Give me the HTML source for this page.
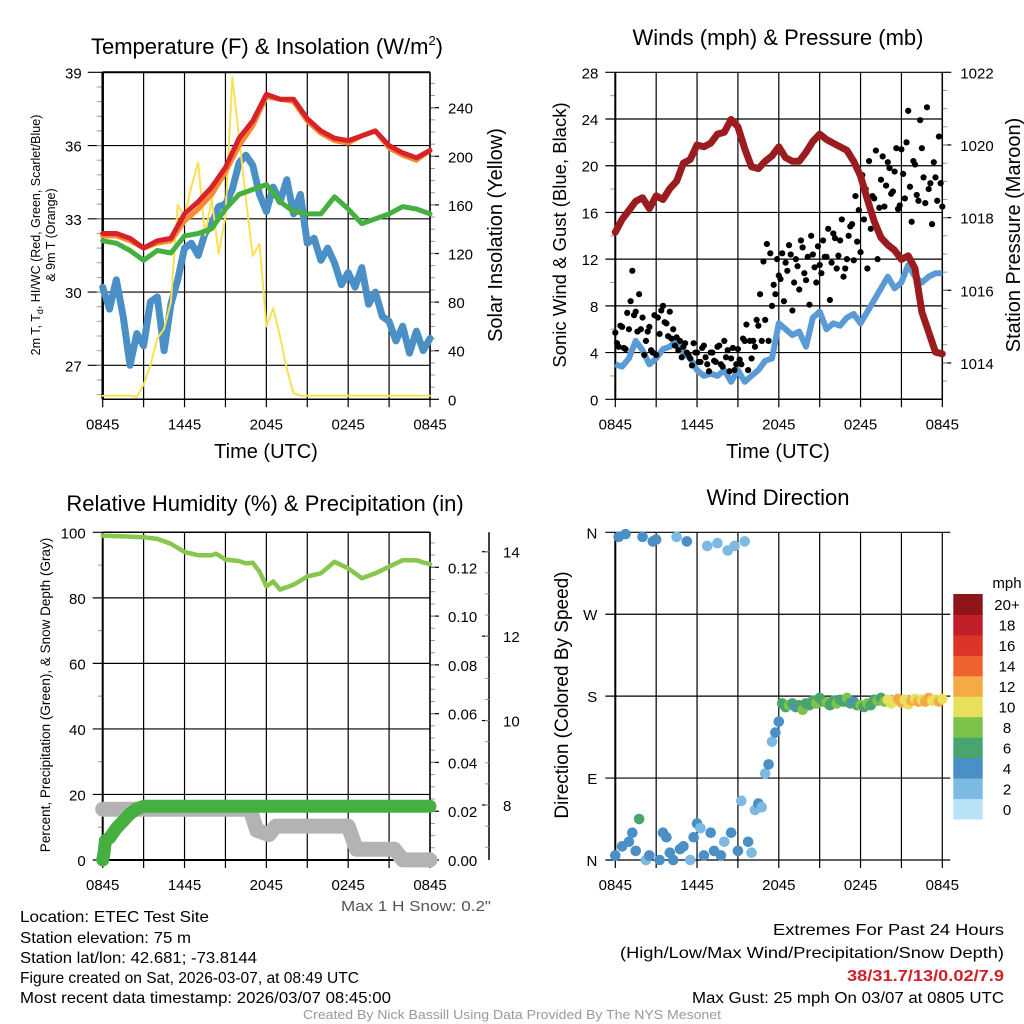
<!DOCTYPE html>
<html><head><meta charset="utf-8">
<style>
html,body{margin:0;padding:0;background:#fff;}
svg{display:block;font-family:"Liberation Sans",Arial,sans-serif;}
</style></head>
<body>
<svg id="fig" width="1024" height="1024" viewBox="0 0 1024 1024" xmlns="http://www.w3.org/2000/svg">
<rect x="0" y="0" width="1024" height="1024" fill="#fff"/>
<g id="layer"></g>
<text x="267" y="54" font-size="22" text-anchor="middle">Temperature (F) &amp; Insolation (W/m<tspan font-size="13" dy="-9">2</tspan><tspan dy="9">)</tspan></text>
<text x="778" y="45" font-size="22" text-anchor="middle">Winds (mph) &amp; Pressure (mb)</text>
<text x="265" y="511" font-size="22" text-anchor="middle">Relative Humidity (%) &amp; Precipitation (in)</text>
<text x="778" y="505" font-size="22" text-anchor="middle">Wind Direction</text>

<text x="266" y="458" font-size="20" text-anchor="middle">Time (UTC)</text>
<text x="778" y="458" font-size="20" text-anchor="middle">Time (UTC)</text>

<text transform="translate(40,235) rotate(-90)" font-size="12.5" text-anchor="middle"><tspan x="0" dy="0">2m T, T<tspan font-size="9" dy="3">d</tspan><tspan dy="-3">, HI/WC (Red, Green, Scarlet/Blue)</tspan></tspan><tspan x="0" dy="15">&amp; 9m T (Orange)</tspan></text>
<text transform="translate(502,235) rotate(-90)" font-size="20" text-anchor="middle">Solar Insolation (Yellow)</text>
<text transform="translate(566,235) rotate(-90)" font-size="18.5" text-anchor="middle">Sonic Wind &amp; Gust (Blue, Black)</text>
<text transform="translate(1020,235) rotate(-90)" font-size="20" text-anchor="middle">Station Pressure (Maroon)</text>
<text transform="translate(50,695) rotate(-90)" font-size="13.5" text-anchor="middle">Percent, Precipitation (Green), &amp; Snow Depth (Gray)</text>
<text transform="translate(568,695) rotate(-90)" font-size="19" text-anchor="middle">Direction (Colored By Speed)</text>

<text x="491" y="911" font-size="15" fill="#555" text-anchor="end" textLength="150" lengthAdjust="spacingAndGlyphs">Max 1 H Snow: 0.2"</text>
<g font-size="16">
<text x="20" y="922" textLength="189" lengthAdjust="spacingAndGlyphs">Location: ETEC Test Site</text>
<text x="20" y="943" textLength="171" lengthAdjust="spacingAndGlyphs">Station elevation: 75 m</text>
<text x="20" y="963" textLength="237" lengthAdjust="spacingAndGlyphs">Station lat/lon: 42.681; -73.8144</text>
<text x="20" y="983" textLength="339" lengthAdjust="spacingAndGlyphs">Figure created on Sat, 2026-03-07, at 08:49 UTC</text>
<text x="20" y="1003" textLength="371" lengthAdjust="spacingAndGlyphs">Most recent data timestamp: 2026/03/07 08:45:00</text>
</g>
<g font-size="16" text-anchor="end">
<text x="1004" y="935" textLength="231" lengthAdjust="spacingAndGlyphs">Extremes For Past 24 Hours</text>
<text x="1004" y="958" textLength="384" lengthAdjust="spacingAndGlyphs">(High/Low/Max Wind/Precipitation/Snow Depth)</text>
<text x="1004" y="981" fill="#d0202a" font-weight="bold" textLength="157" lengthAdjust="spacingAndGlyphs">38/31.7/13/0.02/7.9</text>
<text x="1004" y="1003" textLength="312" lengthAdjust="spacingAndGlyphs">Max Gust: 25 mph On 03/07 at 0805 UTC</text>
</g>
<text x="512" y="1019" font-size="12.5" fill="#999" text-anchor="middle" textLength="418" lengthAdjust="spacingAndGlyphs">Created By Nick Bassill Using Data Provided By The NYS Mesonet</text>
</svg>
<script>
// ---- data ----
const xTickLabels = ['0845','1445','2045','0245','0845'];
const tempRed = [32.4,32.4,32.2,31.8,32.1,32.2,33.2,33.7,34.3,35.1,36.3,37.0,38.1,37.9,37.9,37.1,36.6,36.3,36.2,36.4,36.6,36.0,35.7,35.5,35.8];
const tempOrange = [32.3,32.3,32.1,31.8,32.0,32.1,32.9,33.4,34.0,34.9,36.0,36.8,38.0,37.9,37.8,37.0,36.5,36.2,36.1,36.4,36.6,35.9,35.6,35.4,35.8];
const tempGreen = [32.1,32.0,31.7,31.3,31.7,31.6,32.3,32.4,32.6,33.4,34.0,34.2,34.4,33.7,33.3,33.2,33.2,33.9,33.4,32.8,33.0,33.2,33.5,33.4,33.2];
const tempBlue = [30.2,29.3,30.5,29.0,27.0,28.3,27.8,29.6,29.8,27.6,29.5,30.5,31.8,32.0,31.5,32.4,32.8,33.5,33.6,34.2,35.3,35.6,35.2,34.0,33.3,34.3,33.7,34.6,33.2,34.0,32.0,32.2,31.3,31.8,31.2,30.3,30.8,30.2,31.0,29.5,30.0,29.0,28.8,28.0,28.6,27.5,28.4,27.6,28.1];
const insolation = [3,3,3,3,3,2,12,28,50,58,80,160,150,175,195,135,165,120,150,265,215,165,118,128,60,75,52,25,5,3,3,3,3,3,3,3,3,3,3,3,3,3,3,3,3,3,3,3,3];
const tempTicks = [27,30,33,36,39];
const insolTicks = [0,40,80,120,160,200,240];

const windSpeed = [3,2.8,3.5,5,4.2,3,3.5,4.3,4.5,5,4,3.5,2.5,2,2.2,2,2.5,1.5,2.5,1.5,2,2.5,3.3,3.5,6.5,6,5.5,5.8,4.5,7,7.5,6,6.5,6.3,7,7.3,6.5,7.5,8.5,9.5,10.5,9.5,10,11.5,10.5,10,10.5,10.8,10.8];
const pressure = [1017.6,1017.95,1018.2,1018.45,1018.55,1018.25,1018.6,1018.5,1018.8,1019.0,1019.5,1019.6,1020.0,1019.95,1020.05,1020.3,1020.35,1020.7,1020.5,1019.9,1019.4,1019.35,1019.55,1019.7,1019.95,1019.65,1019.55,1019.55,1019.8,1020.1,1020.3,1020.15,1020.05,1019.95,1019.85,1019.55,1019.15,1018.5,1017.9,1017.45,1017.25,1017.1,1016.85,1016.95,1016.6,1015.4,1014.85,1014.3,1014.25];
const gustA = [5.7,4.5,6.2,4.3,6.0,11.0,7.5,9.0,7.0,5.0,6.2,4.0,3.8,5.6,8.0,6.5,7.5,6.0,5.3,5.0,4.5,4.0,3.5,4.8,4.0,3.2,4.6,3.0,4.0,3.3,4.5,3.0,5.0,4.2,3.5,2.5,4.3,3.0,5.0,2.5,3.5,4.5,6.3,5.0,6.8,5.0,8.0,9.0,10.6,12.5,11.7,13.2,7.6,12.0,9.4,13.0,10.2,8.1,12.4,10.0,11.5,13.6,12.2,8.5,14.2,11.2,13.6,10.5,12.0,14.8,11.9,13.5,12.6,15.4,11.2,14.6,17.2,12.0,18.8,16.5,20.3,17.6,19.5,16.3,21.4,17.2,24.7,15.2,20.1,17.0,21.5,16.8,18.0,15.0,19.0,22.5,16.5];
const gustB = [4.8,6.3,4.4,7.4,8.4,7.2,5.8,6.0,3.8,5.8,4.2,7.2,7.0,7.6,6.6,5.4,5.2,4.6,4.2,3.6,4.8,3.8,2.9,4.0,3.2,4.4,3.6,2.4,4.0,3.2,4.6,2.8,3.6,2.4,4.4,3.0,3.4,5.2,6.4,5.0,5.0,6.8,9.0,11.8,13.3,12.5,9.8,12.0,10.3,8.4,11.0,12.4,10.0,11.4,13.6,10.8,12.2,14.0,11.3,13.1,10.8,12.2,14.6,11.7,13.8,12.3,15.4,11.2,14.0,15.0,17.4,16.2,19.2,18.0,20.4,17.4,21.3,16.4,20.8,18.3,19.8,17.8,21.5,16.6,19.3,22.0,18.2,20.4,17.5,23.9,19.0,25.0,18.5,20.3,17.0,18.5];
const windTicks = [0,4,8,12,16,20,24,28];
const pressTicks = [1014,1016,1018,1020,1022];

const rhTimes = [0,2,3,4,5,6,7,8,8.3,9,10,10.5,11,11.5,12,12.5,13,14,15,16,17,18,19,20,21,22,23,23.5,24];
const rhValues = [99,98.7,98.5,98,96.5,94,93,93,93.5,91.7,91.2,90.5,90.7,88,83.5,85,82.5,84,86.5,87.5,91,89,86,87.5,89.5,91.5,91.5,90.8,90.3];
const precipTimes = [0,0.1,0.2,0.5,1,1.5,2,2.5,3,24];
const precipValues = [0,0.003,0.008,0.009,0.013,0.016,0.019,0.021,0.022,0.022];
const snowTimes = [0,10.8,11.3,12.2,12.7,18.0,18.6,21.4,22.0,24];
const snowValues = [7.9,7.9,7.4,7.3,7.5,7.5,6.95,6.95,6.7,6.7];
const rhTicks = [0,20,40,60,80,100];
const precipTicks = ['0.00','0.02','0.04','0.06','0.08','0.10','0.12'];
const snowTicks = [8,10,12,14];

const dirValues = [5,355,15,358,20,30,10,45,355,0,5,350,352,0,30,25,8,0,355,12,15,350,0,25,40,35,5,345,30,10,348,5,20,340,30,345,10,65,350,20,8,55,62,58,95,105,130,140,152,172,168,170,172,168,170,165,172,170,175,172,178,174,173,170,175,172,176,174,178,172,174,170,170,168,172,170,176,175,178,174,176,172,175,177,173,176,171,175,177,174,176,174,178,175,176,174,177];
const dirSpeed = [3,4,3,4,4,3,4,5,3,2,3,4,3,4,4,3,4,3,2,4,3,3,2,4,3,2,3,2,3,4,2,3,2,2,3,2,3,2,2,3,1,2,3,2,2,3,2,3,3,6,5,7,6,4,6,7,5,6,6,7,6,5,7,6,6,7,5,6,7,6,4,6,7,6,7,6,5,7,6,8,9,10,10,11,12,10,9,12,10,11,10,12,11,10,10,11,10];
const dirLabels = ['N','E','S','W','N'];
const cbarLabels = ['0','2','4','6','8','10','12','14','16','18','20+'];
const cbarColors = ['#b7e2f7','#7cb9e3','#4a8fc6','#4aa46e','#7cc24b','#e8e05a','#f6aa46','#ef6230','#dc3429','#c01f28','#8f1519'];

// ---- helpers ----
const NS = 'http://www.w3.org/2000/svg';
const layer = document.getElementById('layer');
function mk(tag, attrs, parent){ const e=document.createElementNS(NS,tag); for(const k in attrs) e.setAttribute(k,attrs[k]); (parent||layer).appendChild(e); return e; }
function lin(d0,d1,r0,r1){ return v => r0 + (v-d0)/(d1-d0)*(r1-r0); }

function frame(name, L, R, T, B){
  const g = mk('g',{});
  
  
  const xs = lin(0,24,L,R);
  for(let i=0;i<=8;i++){
    const x = xs(i*3);
    const gl = mk('line',{x1:x,y1:T,x2:x,y2:B+8,stroke:'#000','stroke-width':1.2},g);
    
    
  }
  xTickLabels.forEach((s,i)=>{
    const t = mk('text',{x:xs(i*6),y:B+30,'font-size':15,'text-anchor':'middle'},g);
    t.textContent = s;
    
    
  });
  return {g, xs};
}

// ===== Panel 1: temperature =====
(function(){
  const L=102.7,R=430,T=72.3,B=399.3;
  const {g,xs} = frame('temp',L,R,T,B);
  const ys = lin(27,39,365.3,72.3);
  const yi = lin(0,240,399.3,107.7);
  tempTicks.forEach(v=>{
    const y=ys(v);
    const l=mk('line',{x1:L-15,y1:y,x2:R,y2:y,stroke:'#000','stroke-width':1.2},g);
    
    
    const t=mk('text',{x:L-21,y:y+6,'font-size':15,'text-anchor':'end'},g);
    t.textContent=v;
    
    
  });
  for(let v=25.8; v<39; v+=0.6){ mk('line',{x1:L-6,y1:ys(v),x2:L,y2:ys(v),stroke:'#999','stroke-width':1},g); }
  insolTicks.forEach(v=>{
    const y=yi(v);
    mk('line',{x1:R,y1:y,x2:R+9,y2:y,stroke:'#000','stroke-width':1.2},g);
    const t=mk('text',{x:R+18,y:y+6,'font-size':15},g);
    t.textContent=v;
    
    
  });
  for(let v=10; v<265; v+=10){ mk('line',{x1:R,y1:yi(v),x2:R+5,y2:yi(v),stroke:'#999','stroke-width':1},g); }
  mk('line',{x1:L,y1:B,x2:R,y2:B,stroke:'#000','stroke-width':1.5},g);
  mk('line',{x1:L,y1:T,x2:R,y2:T,stroke:'#000','stroke-width':2},g);
  mk('line',{x1:L,y1:T,x2:L,y2:B,stroke:'#000','stroke-width':2.5},g);
  mk('line',{x1:R,y1:T,x2:R,y2:B,stroke:'#000','stroke-width':1.5},g);
  function line(arr, step, yfn, color, w, name){
    const pts = arr.map((v,i)=>xs(i*step).toFixed(1)+','+yfn(v).toFixed(1)).join(' ');
    const p=mk('polyline',{points:pts,fill:'none',stroke:color,'stroke-width':w,'stroke-linejoin':'round','stroke-linecap':'round'});
    
    
  }
  line(tempBlue,0.5,ys,'#4a8fc6',7,'wind-chill-line');
  line(insolation,0.5,yi,'#fbe050',2,'insolation-line');
  line(tempGreen,1,ys,'#45b040',5,'dewpoint-line');
  line(tempOrange,1,ys,'#f58a30',5,'temp-9m-line');
  line(tempRed,1,ys,'#d8222a',5,'temp-2m-line');
})();

// ===== Panel 2: winds & pressure =====
(function(){
  const L=615.3,R=942.3,T=72.3,B=399.3;
  const {g,xs} = frame('wind',L,R,T,B);
  const yw = lin(0,28,399.3,72.3);
  const yp = lin(1013,1022,399.3,72.3);
  windTicks.forEach(v=>{
    const y=yw(v);
    const l=mk('line',{x1:L-10,y1:y,x2:R,y2:y,stroke:'#000','stroke-width':1.2},g);
    
    
    const t=mk('text',{x:L-17,y:y+6,'font-size':15,'text-anchor':'end'},g);
    t.textContent=v;
    
    
  });
  for(let v=2; v<28; v+=4){ mk('line',{x1:L-5,y1:yw(v),x2:L,y2:yw(v),stroke:'#999','stroke-width':1},g); }
  pressTicks.forEach(v=>{
    const y=yp(v);
    mk('line',{x1:R,y1:y,x2:R+9,y2:y,stroke:'#000','stroke-width':1.2},g);
    const t=mk('text',{x:R+18,y:y+6,'font-size':15},g);
    t.textContent=v;
    
    
  });
  for(let v=1013.5; v<1022; v+=0.5){ mk('line',{x1:R,y1:yp(v),x2:R+5,y2:yp(v),stroke:'#999','stroke-width':1},g); }
  mk('line',{x1:L,y1:T,x2:L,y2:B,stroke:'#000','stroke-width':2},g);
  mk('line',{x1:R,y1:T,x2:R,y2:B,stroke:'#000','stroke-width':1.5},g);
  mk('line',{x1:L,y1:B,x2:R,y2:B,stroke:'#000','stroke-width':1.5},g);
  const wp = windSpeed.map((v,i)=>xs(i*0.5).toFixed(1)+','+yw(v).toFixed(1)).join(' ');
  const wl=mk('polyline',{points:wp,fill:'none',stroke:'#5a9bd5','stroke-width':6,'stroke-linejoin':'round'});
  
  
  const gg=mk('g',{fill:'#000'});
  
  
  gustA.forEach((v,i)=>{
    const c=mk('circle',{cx:xs(i*0.25),cy:yw(v),r:3.1},gg);
    
    
  });
  gustB.forEach((v,i)=>{
    const c=mk('circle',{cx:xs(i*0.25+0.125),cy:yw(v),r:3.1},gg);
    
    
  });
  const pp = pressure.map((v,i)=>xs(i*0.5).toFixed(1)+','+yp(v).toFixed(1)).join(' ');
  const pl=mk('polyline',{points:pp,fill:'none',stroke:'#9b1c1f','stroke-width':7,'stroke-linejoin':'round','stroke-linecap':'round'});
  
  
})();

// ===== Panel 3: RH & precipitation =====
(function(){
  const L=102.7,R=430,T=532.3,B=860;
  const {g,xs} = frame('rh',L,R,T,B);
  const yr = lin(0,100,860,532.3);
  const yq = lin(0,0.12,860,567.3);
  const ysn = lin(8,14,805,551.7);
  rhTicks.forEach(v=>{
    const y=yr(v);
    const l=mk('line',{x1:L-10,y1:y,x2:R,y2:y,stroke:'#000','stroke-width':1.2},g);
    
    
    const t=mk('text',{x:L-17,y:y+6,'font-size':15,'text-anchor':'end'},g);
    t.textContent=v;
    
    
  });
  for(let v=10; v<100; v+=20){ mk('line',{x1:L-5,y1:yr(v),x2:L,y2:yr(v),stroke:'#999','stroke-width':1},g); }
  precipTicks.forEach(s=>{
    const y=yq(parseFloat(s));
    mk('line',{x1:R,y1:y,x2:R+9,y2:y,stroke:'#000','stroke-width':1.2},g);
    const t=mk('text',{x:R+18,y:y+6,'font-size':15},g);
    t.textContent=s;
    
    
  });
  for(let v=0.005; v<0.134; v+=0.005){ mk('line',{x1:R,y1:yq(v),x2:R+5,y2:yq(v),stroke:'#999','stroke-width':1},g); }
  const sx=489;
  const sa=mk('line',{x1:sx,y1:532.3,x2:sx,y2:860,stroke:'#000','stroke-width':1.5},g);
  
  
  snowTicks.forEach(v=>{
    const y=ysn(v);
    mk('line',{x1:sx-7,y1:y,x2:sx,y2:y,stroke:'#000','stroke-width':1.2},g);
    const t=mk('text',{x:sx+14,y:y+6,'font-size':15},g);
    t.textContent=v;
    
    
  });
  for(let v=7; v<14.5; v+=0.5){ mk('line',{x1:sx-4,y1:ysn(v),x2:sx,y2:ysn(v),stroke:'#999','stroke-width':1},g); }
  mk('line',{x1:L,y1:T,x2:L,y2:B,stroke:'#000','stroke-width':2},g);
  mk('line',{x1:R,y1:T,x2:R,y2:B,stroke:'#000','stroke-width':1.5},g);
  mk('line',{x1:L,y1:T,x2:R,y2:T,stroke:'#000','stroke-width':1.5},g);
  mk('line',{x1:L,y1:B,x2:R,y2:B,stroke:'#000','stroke-width':2},g);
  function line(ts,vs,yfn,color,w,name){
    const pts = vs.map((v,i)=>xs(ts[i]).toFixed(1)+','+yfn(v).toFixed(1)).join(' ');
    const p=mk('polyline',{points:pts,fill:'none',stroke:color,'stroke-width':w,'stroke-linejoin':'round','stroke-linecap':'round'});
    
    
  }
  line(snowTimes,snowValues,ysn,'#b3b3b3',15,'snow-depth-line');
  line(precipTimes,precipValues,yq,'#45b040',13,'precip-line');
  line(rhTimes,rhValues,yr,'#86c74e',4.5,'rh-line');
})();

// ===== Panel 4: wind direction =====
(function(){
  const L=615.3,R=942.3,T=532.3,B=860;
  const {g,xs} = frame('dir',L,R,T,B);
  const yd = lin(0,360,860,532.3);
  dirLabels.forEach((s,i)=>{
    const y=yd(i*90);
    const l=mk('line',{x1:L-10,y1:y,x2:R+8,y2:y,stroke:'#000','stroke-width':1.2},g);
    
    
    const t=mk('text',{x:L-18,y:y+6,'font-size':15,'text-anchor':'end'},g);
    t.textContent=s;
    
    
  });
  mk('line',{x1:L,y1:T,x2:L,y2:B,stroke:'#000','stroke-width':2},g);
  const dg=mk('g',{});
  
  
  dirValues.forEach((d,i)=>{
    const idx=Math.min(10,Math.round(dirSpeed[i]/2));
    const c=mk('circle',{cx:xs(i*0.25),cy:yd(d),r:5.3,fill:cbarColors[idx]},dg);
    
    
  });
  const cx0=953.3, cw=29.4, ctop=594, ch=(819-594)/11;
  const cb=mk('g',{});
  
  
  cbarLabels.forEach((s,i)=>{
    const y=ctop+(10-i)*ch;
    const r=mk('rect',{x:cx0,y:y,width:cw,height:ch+0.5,fill:cbarColors[i]},cb);
    
    
    const t=mk('text',{x:1007,y:y+ch/2+6,'font-size':15,'text-anchor':'middle'},cb);
    t.textContent=s;
    
    
  });
  const u=mk('text',{x:1007,y:588,'font-size':15,'text-anchor':'middle'},cb);
  u.textContent='mph';
  
  
})();
</script>
</body></html>
